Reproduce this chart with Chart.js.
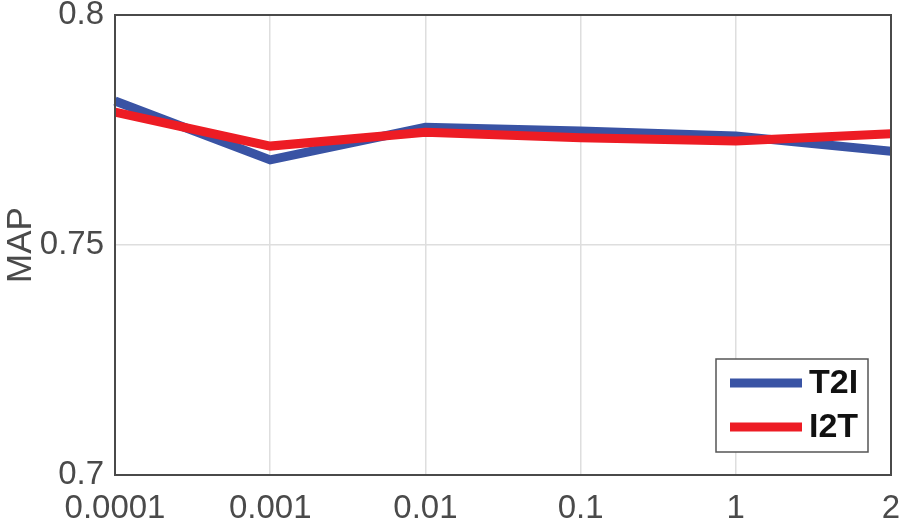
<!DOCTYPE html>
<html>
<head>
<meta charset="utf-8">
<script src="https://cdn.jsdelivr.net/npm/chart.js@4/dist/chart.umd.min.js"></script>
<style>
  html,body{margin:0;padding:0;background:#fff;}
  #wrap{width:904px;height:527px;position:relative;}
</style>
</head>
<body>
<div id="wrap"><canvas id="c"></canvas></div>
<script>
// MAP vs parameter value
const categories = ['0.0001', '0.001', '0.01', '0.1', '1', '2'];
const t2i = [0.7813, 0.7685, 0.7756, 0.7748, 0.7737, 0.7704];
const i2t = [0.7789, 0.7715, 0.7745, 0.7733, 0.7726, 0.7742];
const yTicks = [0.7, 0.75, 0.8];
const seriesNames = ['T2I', 'I2T'];

const BLUE = '#3953a4', RED = '#ed1c24', AXIS = '#4a4a4a';
const FONT = "'Liberation Sans', Arial, sans-serif";

// box around plot + legend in lower right, matlab style
const boxPlugin = {
  id: 'box',
  afterDraw(chart){
    const {ctx, chartArea:a} = chart;
    ctx.save();
    ctx.strokeStyle = AXIS;
    ctx.lineWidth = 2;
    ctx.strokeRect(a.left, a.top, a.right - a.left, a.bottom - a.top);

    // legend
    const bx = a.right - 175, by = a.bottom - 116, bw = 152, bh = 93;
    ctx.fillStyle = '#fff';
    ctx.fillRect(bx, by, bw, bh);
    ctx.strokeStyle = '#555';
    ctx.lineWidth = 1.5;
    ctx.strokeRect(bx, by, bw, bh);
    const sets = [chart.data.datasets[0], chart.data.datasets[1]];
    sets.forEach((ds, i)=>{
      const y = by + 24 + i*44;
      ctx.strokeStyle = ds.borderColor;
      ctx.lineWidth = 9;
      ctx.beginPath();
      ctx.moveTo(bx + 14, y);
      ctx.lineTo(bx + 86, y);
      ctx.stroke();
      ctx.fillStyle = '#111';
      ctx.font = "bold 34px " + FONT;
      ctx.textBaseline = 'middle';
      ctx.textAlign = 'left';
      ctx.fillText(ds.label, bx + 93, y + 1);
    });
    ctx.restore();
  }
};

new Chart(document.getElementById('c'), {
  type: 'line',
  data: {
    labels: categories,
    datasets: [
      { label: seriesNames[0], data: t2i, borderColor: BLUE, backgroundColor: BLUE, borderWidth: 9, pointRadius: 0, tension: 0, order: 2 },
      { label: seriesNames[1], data: i2t, borderColor: RED, backgroundColor: RED, borderWidth: 9, pointRadius: 0, tension: 0, order: 1 }
    ]
  },
  options: {
    responsive: true,
    maintainAspectRatio: false,
    animation: false,
    layout: { padding: { top: 15, right: 13, left: 0, bottom: 0 } },
    plugins: { legend: { display: false }, tooltip: { enabled: false } },
    scales: {
      x: {
        offset: false,
        grid: { color: '#dedede', lineWidth: 1.5, drawTicks: false },
        border: { color: AXIS, width: 2 },
        ticks: { color: AXIS, font: { family: FONT, size: 33 }, padding: 14, maxRotation: 0, autoSkip: false },
        afterFit(s){ s.height = 52; s.paddingLeft = 0; s.paddingRight = 0; }
      },
      y: {
        min: 0.7, max: 0.8,
        afterBuildTicks(s){ s.ticks = yTicks.map(v=>({value: v})); },
        grid: { color: '#dedede', lineWidth: 1.5, drawTicks: false },
        border: { color: AXIS, width: 2 },
        ticks: { color: AXIS, font: { family: FONT, size: 33 }, padding: 11, callback: v => String(v) },
        title: { display: true, text: 'MAP', color: AXIS, font: { family: FONT, size: 35 }, padding: 0 },
        afterFit(s){ s.width = 115; s.paddingTop = 0; s.paddingBottom = 0; }
      }
    }
  },
  plugins: [boxPlugin]
});
</script>
</body>
</html>
